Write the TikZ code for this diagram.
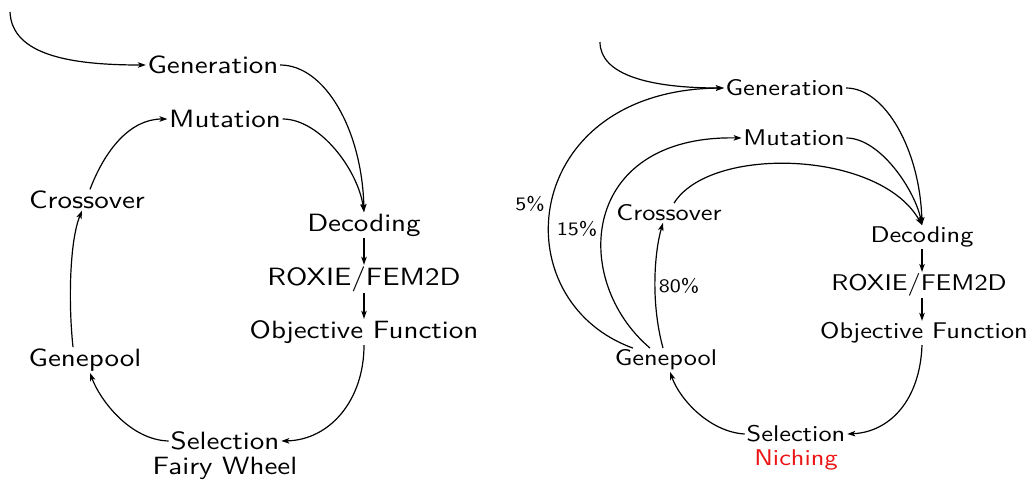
\documentclass[tikz,border=0pt]{standalone}
\usepackage{fontspec}
\newfontfamily\dfont{lmsans10-regular}[Extension=.otf,FakeStretch=1.16]
\usetikzlibrary{arrows.meta}
\definecolor{nichred}{RGB}{235,20,20}
\begin{document}
\begin{tikzpicture}[x=1pt,y=-1pt,
  lab/.style={inner sep=1.5pt,font=\dfont\fontsize{25}{27}\selectfont},
  labr/.style={inner sep=1.5pt,font=\dfont\fontsize{22.7}{24}\selectfont},
  pct/.style={inner sep=1pt,font=\dfont\fontsize{19}{21}\selectfont},
  conn/.style={line width=1.2pt,-{Stealth[length=8pt,width=5.5pt,inset=2pt]}}]
\useasboundingbox (0,0) rectangle (1030,480);
% ---------- left diagram ----------
\node[lab] (gen) at (213,65) {Generation};
\node[lab] (mut) at (225,119) {Mutation};
\node[lab] (cro) at (87,200) {Crossover};
\node[lab] (dec) at (364,225) {Decoding};
\node[lab] (rox) at (364,279) {ROXIE/FEM2D};
\node[lab] (obj) at (364,332) {Objective Function};
\node[lab] (gp) at (85,360) {Genepool};
\node[lab,inner sep=0.3pt] (sel) at (225,441) {Selection};
\node[lab,inner sep=0.3pt] (fw) at (225,468) {Fairy Wheel};
\coordinate (startL) at (10,12);
\draw[conn] (startL) .. controls (12,55) and (70,65) .. (gen.west);
\draw[conn] (gen.east) .. controls (325,65) and (362,130) .. (dec.north);
\draw[conn] (mut.east) .. controls (320,119) and (358,170) .. (dec.north);
\draw[conn] (dec) -- (rox);
\draw[conn] (rox) -- (obj);
\draw[conn] (obj.south) .. controls (364,400) and (330,440) .. ([xshift=1.5pt]sel.east);
\draw[conn] ([xshift=-1.5pt]sel.west) .. controls (130,440) and (100,400) .. ([xshift=5pt]gp.south);
\draw[conn] ([xshift=-12pt]gp.north) .. controls (68,300) and (70,240) .. ([xshift=-5pt]cro.south);
\draw[conn] ([xshift=3pt]cro.north) .. controls (105,150) and (130,119) .. (mut.west);
% ---------- right diagram ----------
\node[labr] (genr) at (785,88) {Generation};
\node[labr] (mutr) at (794,138) {Mutation};
\node[labr] (cror) at (669,213) {Crossover};
\node[labr] (decr) at (922,237) {Decoding};
\node[labr] (roxr) at (919,285) {ROXIE/FEM2D};
\node[labr] (objr) at (924,333) {Objective Function};
\node[labr] (gpr) at (666,360) {Genepool};
\node[labr,inner sep=0.3pt] (selr) at (796,434) {Selection};
\node[labr,inner sep=0.3pt,text=nichred] (nich) at (796,460) {Niching};
\coordinate (startR) at (600,42);
\draw[conn] (startR) .. controls (600,75) and (650,88) .. (genr.west);
\draw[conn] (genr.east) .. controls (885,88) and (920,150) .. (decr.north);
\draw[conn] (mutr.east) .. controls (880,138) and (915,190) .. (decr.north);
\draw[conn] ([xshift=5pt]cror.north) .. controls (710,145) and (880,150) .. (decr.north);
\draw[conn] (decr) -- (roxr.north -| decr);
\draw[conn] (roxr.south -| decr) -- (objr.north -| decr);
\draw[conn] (objr.south -| decr) .. controls (920,400) and (890,432) .. ([xshift=1.5pt]selr.east);
\draw[conn] ([xshift=-1.5pt]selr.west) .. controls (710,432) and (680,400) .. ([xshift=4pt]gpr.south);
\draw[conn] ([xshift=-33pt]gpr.north) .. controls (500,300) and (520,90) .. (genr.west);
\draw[conn] ([xshift=-16pt]gpr.north) .. controls (570,280) and (580,135) .. (mutr.west);
\draw[conn] ([xshift=-3pt]gpr.north) .. controls (650,300) and (655,250) .. ([xshift=-6pt]cror.south);
\node[pct] (p5) at (530,204) {5\%};
\node[pct] (p15) at (577,229) {15\%};
\node[pct] (p80) at (679,286) {80\%};
\end{tikzpicture}
\end{document}
